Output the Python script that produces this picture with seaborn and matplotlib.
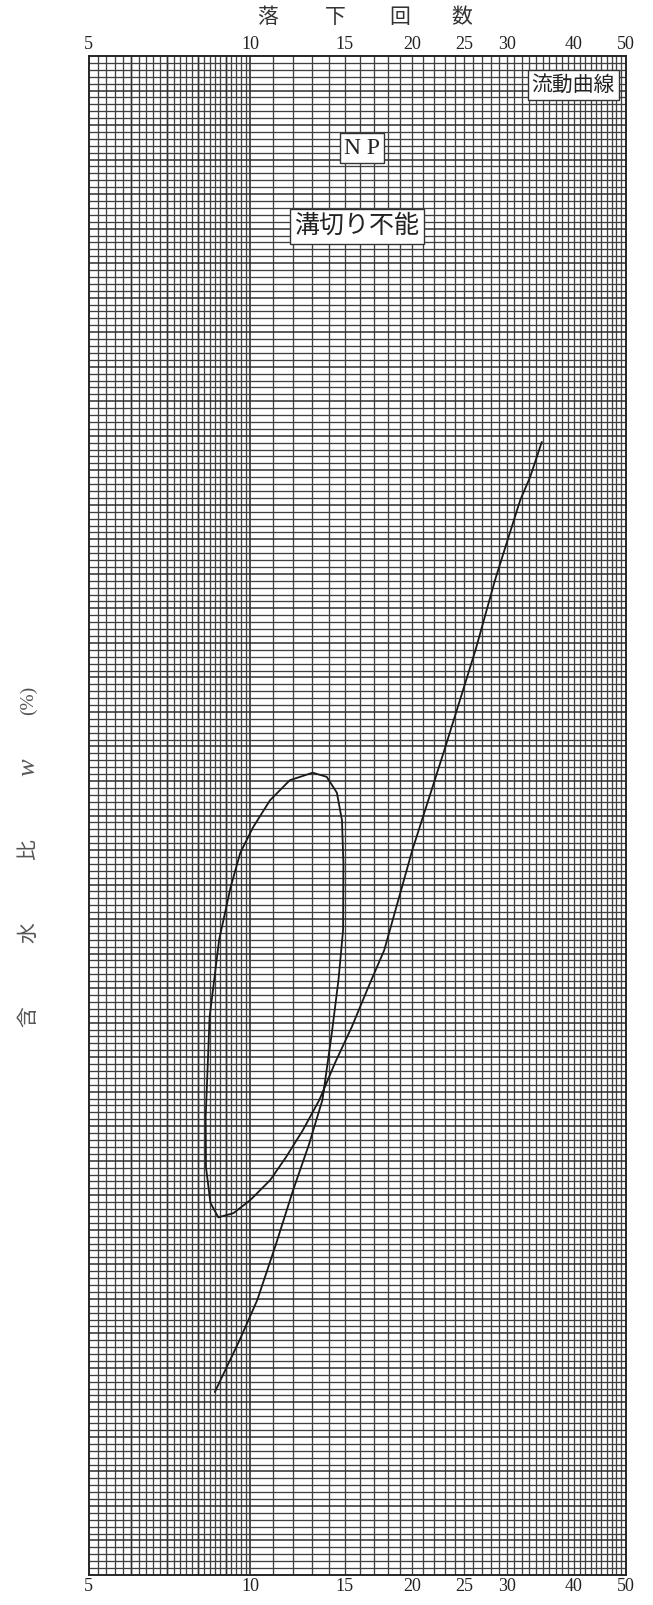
import matplotlib
matplotlib.use('Agg')
import matplotlib.pyplot as plt
import seaborn as sns
import pandas as pd
import numpy as np
from matplotlib.ticker import FixedLocator, FixedFormatter, NullLocator, NullFormatter

sns.set_style('white')
plt.rcParams['font.family'] = ['Liberation Serif', 'Noto Sans CJK JP', 'DejaVu Sans']

# ---- data (drop count N, water content in grid units) ----
drops = [8.59, 9.55, 10.30, 11.15, 12.02, 12.85, 13.62, 14.18, 14.59, 14.88,
         14.90, 14.81, 14.49, 13.87, 13.06, 11.84, 10.88, 10.12, 9.58, 9.19,
         8.75, 8.40, 8.26, 8.27, 8.43, 8.72, 9.30, 10.00, 10.89, 11.65,
         12.52, 13.44, 14.38, 15.45, 16.59, 17.75, 20.02, 22.97, 26.25, 28.53,
         30.11, 31.79, 33.15, 34.86]
water = [26.5, 34.0, 39.8, 47.8, 55.8, 62.3, 68.8, 78.5, 86.2, 93.4,
         103.1, 109.3, 113.3, 115.6, 116.2, 115.1, 112.2, 108.3, 104.6, 99.6,
         92.0, 80.8, 66.3, 59.1, 53.9, 51.8, 52.4, 54.3, 57.2, 60.5,
         64.4, 68.8, 74.2, 79.4, 85.2, 90.5, 105.0, 119.5, 134.0, 144.1,
         149.9, 155.7, 159.0, 164.1]

x_ticks = [5, 10, 15, 20, 25, 30, 40, 50]
x_tick_labels = ['5', '10', '15', '20', '25', '30', '40', '50']
x_title_chars = ['落', '下', '回', '数']
y_title_parts = ['含', '水', '比', 'w', '(%)']
box_labels = ['流動曲線', 'N P', '溝切り不能']

df = pd.DataFrame({'N': drops, 'w': water})

W, H = 653, 1605
fig = plt.figure(figsize=(W / 100, H / 100), dpi=100)
left, right, top, bottom = 88.5, 626, 56, 1575
ax = fig.add_axes([left / W, 1 - bottom / H, (right - left) / W, (bottom - top) / H])
ax.set_xscale('log')
ax.set_xlim(5, 50)
ax.set_ylim(0, 220)

# graph-paper grid
grid_col = '#404040'
vx = [5 + 0.2 * i for i in range(1, 25)] + list(range(11, 50))
for v in vx:
    ax.axvline(v, color=grid_col, lw=0.95, zorder=1)
for v in [6, 7, 8, 9]:
    ax.axvline(v, color='#2e2e2e', lw=1.05, zorder=1)
ax.axvline(10, color='#262626', lw=1.15, zorder=1)
for h in range(1, 220):
    ax.axhline(h, color=grid_col if h % 5 else '#2e2e2e', lw=0.95 if h % 5 else 1.1, zorder=1)

sns.lineplot(data=df, x='N', y='w', sort=False, estimator=None, color='#1a1a1a',
             lw=1.3, ax=ax, zorder=3)

ax.set_xlabel('')
ax.set_ylabel('')
ax.set_yticks([])
ax.xaxis.set_major_locator(FixedLocator(x_ticks))
ax.xaxis.set_major_formatter(FixedFormatter(x_tick_labels))
ax.xaxis.set_minor_locator(NullLocator())
ax.xaxis.set_minor_formatter(NullFormatter())
ax.tick_params(axis='x', which='both', length=0, top=True, labeltop=True,
               bottom=True, labelbottom=True, labelsize=13, pad=2, colors='#222222')
for sp in ax.spines.values():
    sp.set_visible(True)
    sp.set_color('#262626')
    sp.set_linewidth(1.4)


def ftext(px, py, s, **kw):
    fig.text(px / W, 1 - py / H, s, ha='center', va='center', **kw)


# top title characters
for cx, ch in zip([268, 335, 400, 462], x_title_chars):
    ftext(cx, 17, ch, fontsize=15, color='#333333', family=['Noto Sans CJK JP'])

# y title (rotated)
for cy, part in zip([1017, 933, 850, 767, 700], y_title_parts):
    if part == 'w':
        ftext(28, cy, part, fontsize=19, rotation=90, color='#555555',
              style='italic', family=['Liberation Serif'])
    elif part == '(%)':
        ftext(28, cy, part, fontsize=14, rotation=90, color='#555555',
              family=['Liberation Serif'])
    else:
        ftext(28, cy, part, fontsize=15, rotation=90, color='#555555',
              family=['Noto Sans CJK JP'])

bbox = dict(boxstyle='square,pad=0.18', fc='white', ec='#333333', lw=1.0)
ftext(573, 85, box_labels[0], fontsize=15, color='#222222',
      family=['Noto Sans CJK JP'], bbox=bbox, zorder=5)
ftext(362, 148, box_labels[1], fontsize=17, color='#222222',
      family=['Liberation Serif'], bbox=bbox, zorder=5)
ftext(357, 226, box_labels[2], fontsize=18, color='#222222',
      family=['Noto Sans CJK JP'], bbox=bbox, zorder=5)

fig.savefig('out.png', dpi=100, facecolor='white')
